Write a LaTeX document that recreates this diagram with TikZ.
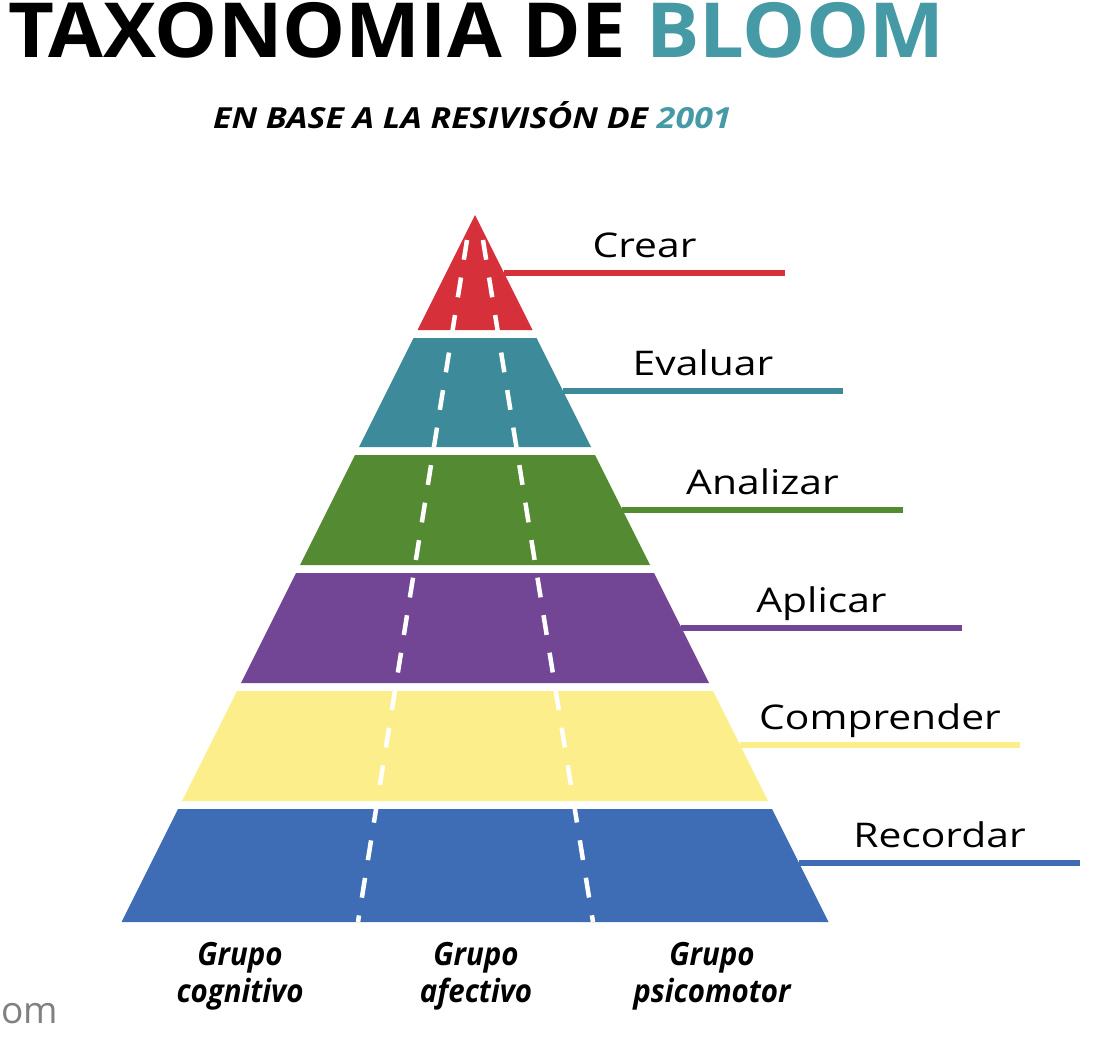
\documentclass[tikz,border=0pt]{standalone}
\usepackage{fontspec}
\setmainfont{Open Sans}
\newfontfamily\titlefont[FakeStretch=1.045]{Open Sans}
\newfontfamily\subfont[FakeStretch=1.17]{Open Sans}
\newfontfamily\lvlfont[FakeStretch=1.2]{Open Sans}
\newfontfamily\grpfont[FakeStretch=0.92]{Open Sans}
\usepackage{tikz}
\usetikzlibrary{positioning}
\definecolor{crearcolor}{HTML}{D6313A}
\definecolor{evaluarcolor}{HTML}{3D8B9A}
\definecolor{analizarcolor}{HTML}{548A31}
\definecolor{aplicarcolor}{HTML}{734595}
\definecolor{comprendercolor}{HTML}{FCEE8A}
\definecolor{recordarcolor}{HTML}{3E6DB5}
\definecolor{bloomcolor}{HTML}{459AA5}

\begin{document}
\begin{tikzpicture}[
  x=1pt,y=-1pt,
  leader/.style={line width=6pt},
  lvl/.style={font=\lvlfont\fontsize{34}{40}\selectfont,anchor=base,yshift=16pt,inner sep=0pt},
  road/.style={white,line width=4.5pt,dash pattern=on 20pt off 18pt},
  grp/.style={font=\grpfont\bfseries\itshape\fontsize{32}{37}\selectfont,align=center,inner sep=0pt}
]
\useasboundingbox (0,0) rectangle (1108,1042);

% title
\node[anchor=base west,inner sep=0pt,font=\titlefont\fontsize{76}{80}\selectfont\bfseries] (title) at (8,57) {TAXONOMIA DE \textcolor{bloomcolor}{BLOOM}};
\node[anchor=base west,inner sep=0pt,font=\subfont\fontsize{29}{34}\selectfont\bfseries\itshape] (subtitle) at (213,128) {EN BASE A LA RESIVIS\'ON DE \textcolor{bloomcolor}{2001}};

% pyramid layers
\fill[crearcolor] (475,215) -- (532.5,330) -- (417.5,330) -- cycle;
\fill[evaluarcolor] (413.5,338) -- (536.5,338) -- (591,447) -- (359,447) -- cycle;
\fill[analizarcolor] (355,455) -- (595,455) -- (650,565) -- (300,565) -- cycle;
\fill[aplicarcolor] (296,573) -- (654,573) -- (709,683) -- (241,683) -- cycle;
\fill[comprendercolor] (237,691) -- (713,691) -- (768,801) -- (182,801) -- cycle;
\fill[recordarcolor] (178,809) -- (772,809) -- (828.5,922) -- (121.5,922) -- cycle;

% the two roads
\coordinate (roadLtop) at (467,240);
\coordinate (roadLbot) at (358,922);
\coordinate (roadRtop) at (483,240);
\coordinate (roadRbot) at (593,922);
\draw[road] (roadLtop) -- (roadLbot);
\draw[road] (roadRtop) -- (roadRbot);

% leaders and levels
\coordinate (crearE) at (504,273);     \coordinate (crearEnd) at (785,273);
\coordinate (evaluarE) at (563,391);   \coordinate (evaluarEnd) at (843,391);
\coordinate (analizarE) at (622,510);  \coordinate (analizarEnd) at (903,510);
\coordinate (aplicarE) at (681,628);   \coordinate (aplicarEnd) at (962,628);
\coordinate (comprenderE) at (740,745);\coordinate (comprenderEnd) at (1020,745);
\coordinate (recordarE) at (799,863);  \coordinate (recordarEnd) at (1080,863);

\draw[leader,crearcolor] (crearE) -- (crearEnd) node[lvl,midway,text=black] (crear) {Crear};
\draw[leader,evaluarcolor] (evaluarE) -- (evaluarEnd) node[lvl,midway,text=black] (evaluar) {Evaluar};
\draw[leader,analizarcolor] (analizarE) -- (analizarEnd) node[lvl,midway,text=black] (analizar) {Analizar};
\draw[leader,aplicarcolor] (aplicarE) -- (aplicarEnd) node[lvl,midway,text=black] (aplicar) {Aplicar};
\draw[leader,comprendercolor] (comprenderE) -- (comprenderEnd) node[lvl,midway,text=black] (comprender) {Comprender};
\draw[leader,recordarcolor] (recordarE) -- (recordarEnd) node[lvl,midway,text=black] (recordar) {Recordar};

% groups
\node[grp] (cognitivo) at (240,976) {Grupo\\cognitivo};
\node[grp] (afectivo) at (476,976) {Grupo\\afectivo};
\node[grp] (psicomotor) at (712,976) {Grupo\\psicomotor};

\node[anchor=base west,inner sep=0pt,text=gray,font=\fontsize{37}{40}\selectfont] (om) at (1,1023) {om};
\end{tikzpicture}
\end{document}
